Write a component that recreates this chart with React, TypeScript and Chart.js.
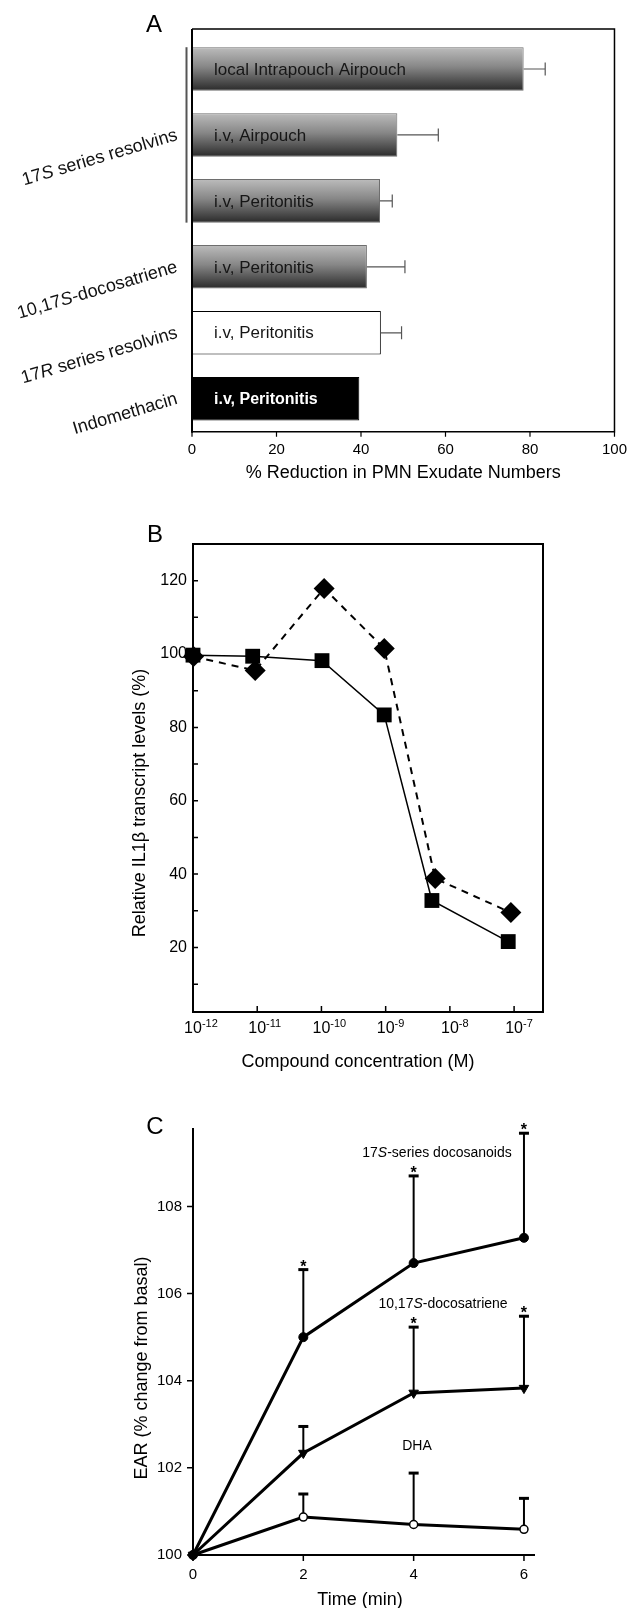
import React, { useEffect, useRef } from 'react';
import { Chart, registerables } from 'chart.js';

Chart.register(...registerables);

const FONT = "'Liberation Sans', Arial, Helvetica, sans-serif";
Chart.defaults.font.family = FONT;
Chart.defaults.color = '#000';

// ---------------- Panel A data ----------------
const barLabels = [
  'local Intrapouch Airpouch',
  'i.v, Airpouch',
  'i.v, Peritonitis',
  'i.v, Peritonitis',
  'i.v, Peritonitis',
  'i.v, Peritonitis',
];
const reductionValues = [78.5, 48.6, 44.5, 41.4, 44.7, 39.6];
const reductionErrors = [5.1, 9.7, 2.9, 9.0, 4.9, 0];
const barFills = ['gradient', 'gradient', 'gradient', 'gradient', 'white', 'black'];
const groupNames = ['17S series resolvins', '10,17S-docosatriene', '17R series resolvins', 'Indomethacin'];
const groupFirstBar = [0, 3, 4, 5];
const groupLastBar = [2, 3, 4, 5];
const reductionTicks = [0, 20, 40, 60, 80, 100];

// ---------------- Panel B data ----------------
const bTickExponents = [-12, -11, -10, -9, -8, -7];
const squareConc = [1e-12, 8.5e-12, 1.02e-10, 9.5e-10, 5.25e-9, 8.1e-8];
const squareLevels = [99.7, 99.4, 98.2, 83.4, 32.8, 21.6];
const diamondConc = [1.02e-12, 9.3e-12, 1.1e-10, 9.5e-10, 5.9e-9, 8.9e-8];
const diamondLevels = [99.3, 95.5, 117.9, 101.5, 38.8, 29.5];
const bYTicks = [10, 20, 30, 40, 50, 60, 70, 80, 90, 100, 110, 120];

// ---------------- Panel C data ----------------
const timeMin = [0, 2, 4, 6];
const docosanoidsEAR = [100, 105.0, 106.7, 107.28];
const docosanoidsSEM = [0, 1.55, 2.0, 2.4];
const docosanoidsSig = [false, true, true, true];
const docosatrieneEAR = [100, 102.34, 103.72, 103.83];
const docosatrieneSEM = [0, 0.61, 1.51, 1.65];
const docosatrieneSig = [false, false, true, true];
const dhaEAR = [100, 100.87, 100.7, 100.59];
const dhaSEM = [0, 0.53, 1.18, 0.71];
const dhaSig = [false, false, false, false];
const cXTicks = [0, 2, 4, 6];
const cYTicks = [100, 102, 104, 106, 108];

// ---------------- helpers ----------------
function stereoSegments(label: string) {
  const m = label.match(/^(.*17)([SR])(.*)$/);
  return m
    ? [
        { t: m[1], it: false },
        { t: m[2], it: true },
        { t: m[3], it: false },
      ]
    : [{ t: label, it: false }];
}

function drawSegments(ctx: CanvasRenderingContext2D, label: string, x: number, y: number, size: number, align: string) {
  const segs = stereoSegments(label);
  const fontOf = (it: boolean) => `${it ? 'italic ' : ''}${size}px ${FONT}`;
  const widths = segs.map((s) => {
    ctx.font = fontOf(s.it);
    return ctx.measureText(s.t).width;
  });
  const total = widths.reduce((a, b) => a + b, 0);
  let cx = align === 'right' ? x - total : align === 'center' ? x - total / 2 : x;
  ctx.textAlign = 'left';
  segs.forEach((s, i) => {
    ctx.font = fontOf(s.it);
    ctx.fillText(s.t, cx, y);
    cx += widths[i];
  });
}

function drawText(ctx: CanvasRenderingContext2D, text: string, x: number, y: number, size: number, rotation = 0) {
  ctx.save();
  ctx.translate(x, y);
  ctx.rotate(rotation);
  ctx.font = `${size}px ${FONT}`;
  ctx.fillStyle = '#000';
  ctx.textAlign = 'center';
  ctx.textBaseline = 'middle';
  ctx.fillText(text, 0, 0);
  ctx.restore();
}

const BAR_PCT = 0.66;

function barFillStyle(c: any) {
  const i = c.dataIndex;
  if (i == null) return '#888';
  const f = barFills[i];
  if (f === 'white') return '#ffffff';
  if (f === 'black') return '#000000';
  const chart = c.chart;
  const ys = chart.scales && chart.scales.y;
  if (!chart.chartArea || !ys) return '#888';
  const cy = ys.getPixelForValue(i);
  const half = ((ys.height / barLabels.length) * BAR_PCT) / 2;
  const g = chart.ctx.createLinearGradient(0, cy - half, 0, cy + half);
  g.addColorStop(0, '#bcbcbc');
  g.addColorStop(0.45, '#878787');
  g.addColorStop(1, '#2a2a2a');
  return g;
}

// ---------------- Panel A ----------------
const panelAPlugin = {
  id: 'panelA',
  afterDatasetsDraw(chart: any) {
    const { ctx, chartArea: ca, scales } = chart;
    const xs = scales.x;
    const meta = chart.getDatasetMeta(0);
    ctx.save();
    // error bars
    ctx.strokeStyle = '#555';
    ctx.lineWidth = 1.2;
    meta.data.forEach((el: any, i: number) => {
      const e = reductionErrors[i];
      if (!e) return;
      const x1 = xs.getPixelForValue(reductionValues[i] + e);
      ctx.beginPath();
      ctx.moveTo(el.x, el.y);
      ctx.lineTo(x1, el.y);
      ctx.moveTo(x1, el.y - 6.5);
      ctx.lineTo(x1, el.y + 6.5);
      ctx.stroke();
    });
    // texts inside bars
    meta.data.forEach((el: any, i: number) => {
      const f = barFills[i];
      ctx.font = f === 'black' ? `bold 16px ${FONT}` : `17px ${FONT}`;
      ctx.fillStyle = f === 'black' ? '#ffffff' : '#161616';
      ctx.textAlign = 'left';
      ctx.textBaseline = 'middle';
      ctx.fillText(barLabels[i], xs.getPixelForValue(0) + 22, el.y + 1);
    });
    // group labels + bracket
    ctx.fillStyle = '#111';
    ctx.textBaseline = 'middle';
    groupNames.forEach((name, g) => {
      const a = meta.data[groupFirstBar[g]];
      const b = meta.data[groupLastBar[g]];
      const yc = (a.y + b.y) / 2;
      ctx.save();
      ctx.translate(ca.left - 15, yc);
      ctx.rotate((-16.5 * Math.PI) / 180);
      drawSegments(ctx, name, 0, 0, 18, 'right');
      ctx.restore();
      if (groupLastBar[g] > groupFirstBar[g]) {
        ctx.strokeStyle = '#555';
        ctx.lineWidth = 2;
        ctx.beginPath();
        ctx.moveTo(ca.left - 5.5, a.y - a.height / 2);
        ctx.lineTo(ca.left - 5.5, b.y + b.height / 2);
        ctx.stroke();
      }
    });
    ctx.restore();
  },
  afterDraw(chart: any) {
    const { ctx, chartArea: ca, scales } = chart;
    const xs = scales.x;
    ctx.save();
    ctx.strokeStyle = '#000';
    const top = ca.top - 7;
    ctx.lineWidth = 1.5;
    ctx.beginPath();
    ctx.moveTo(ca.left, top);
    ctx.lineTo(ca.right, top);
    ctx.lineTo(ca.right, ca.bottom);
    ctx.lineTo(ca.left, ca.bottom);
    ctx.stroke();
    ctx.lineWidth = 2;
    ctx.beginPath();
    ctx.moveTo(ca.left, top);
    ctx.lineTo(ca.left, ca.bottom + 1);
    ctx.stroke();
    ctx.lineWidth = 1.2;
    ctx.beginPath();
    reductionTicks.forEach((v) => {
      const x = xs.getPixelForValue(v);
      ctx.moveTo(x, ca.bottom);
      ctx.lineTo(x, ca.bottom + 5);
    });
    ctx.stroke();
    drawText(ctx, 'A', 154, 25, 24);
    drawText(ctx, '% Reduction in PMN Exudate Numbers', (ca.left + ca.right) / 2, 473, 18);
    ctx.restore();
  },
};

function makeA(): any {
  return {
    type: 'bar',
    data: {
      labels: barLabels,
      datasets: [
        {
          data: reductionValues,
          backgroundColor: (c: any) => barFillStyle(c),
          borderColor: (c: any) => (c.dataIndex != null && barFills[c.dataIndex] === 'gradient' ? '#6e6e6e' : '#000'),
          borderWidth: 1,
          borderSkipped: 'start',
          categoryPercentage: 1,
          barPercentage: BAR_PCT,
        },
      ],
    },
    options: {
      responsive: false,
      animation: false,
      indexAxis: 'y',
      layout: { padding: { left: 0, right: 16, top: 36, bottom: 0 } },
      plugins: { legend: { display: false }, tooltip: { enabled: false } },
      scales: {
        x: {
          type: 'linear',
          min: 0,
          max: 100,
          afterBuildTicks: (s: any) => {
            s.ticks = reductionTicks.map((v) => ({ value: v }));
          },
          ticks: { font: { size: 15 }, color: '#000', padding: 9 },
          grid: { display: false, drawTicks: false },
          border: { display: false },
          afterFit: (s: any) => {
            s.height = 68.3;
          },
        },
        y: {
          type: 'category',
          ticks: { display: false },
          grid: { display: false, drawTicks: false },
          border: { display: false },
          afterFit: (s: any) => {
            s.width = 192;
          },
        },
      },
    },
    plugins: [panelAPlugin],
  };
}

// ---------------- Panel B ----------------
const panelBPlugin = {
  id: 'panelB',
  afterDraw(chart: any) {
    const { ctx, chartArea: ca, scales } = chart;
    const xs = scales.x;
    const ys = scales.y;
    ctx.save();
    ctx.strokeStyle = '#000';
    ctx.lineWidth = 2;
    ctx.strokeRect(ca.left, ca.top, ca.right - ca.left, ca.bottom - ca.top);
    ctx.lineWidth = 1.5;
    ctx.beginPath();
    bTickExponents.forEach((e) => {
      const x = xs.getPixelForValue(Math.pow(10, e));
      ctx.moveTo(x, ca.bottom);
      ctx.lineTo(x, ca.bottom - 6);
    });
    bYTicks.forEach((v) => {
      const y = ys.getPixelForValue(v);
      ctx.moveTo(ca.left, y);
      ctx.lineTo(ca.left + 5, y);
    });
    ctx.stroke();
    ctx.fillStyle = '#000';
    ctx.textBaseline = 'middle';
    bTickExponents.forEach((e) => {
      const x = xs.getPixelForValue(Math.pow(10, e));
      ctx.font = `16px ${FONT}`;
      ctx.textAlign = 'center';
      const w = ctx.measureText('10').width;
      ctx.fillText('10', x, ca.bottom + 17);
      ctx.font = `11px ${FONT}`;
      ctx.textAlign = 'left';
      ctx.fillText(String(e), x + w / 2, ca.bottom + 12);
    });
    drawText(ctx, 'B', 155, 35, 24);
    drawText(ctx, 'Relative IL1β transcript levels (%)', 140, 303, 18, -Math.PI / 2);
    drawText(ctx, 'Compound concentration (M)', 358, 562, 18);
    ctx.restore();
  },
};

function makeB(): any {
  return {
    type: 'line',
    data: {
      datasets: [
        {
          label: 'Series 1',
          data: squareConc.map((x, i) => ({ x, y: squareLevels[i] })),
          borderColor: '#000',
          borderWidth: 1.5,
          pointStyle: 'rect',
          pointRadius: 10.5,
          pointBackgroundColor: '#000',
          pointBorderColor: '#000',
          pointBorderWidth: 0,
          clip: false,
        },
        {
          label: 'Series 2',
          data: diamondConc.map((x, i) => ({ x, y: diamondLevels[i] })),
          borderColor: '#000',
          borderWidth: 2,
          borderDash: [7, 6],
          pointStyle: 'rectRot',
          pointRadius: 10.5,
          pointBackgroundColor: '#000',
          pointBorderColor: '#000',
          pointBorderWidth: 0,
          clip: false,
        },
      ],
    },
    options: {
      responsive: false,
      animation: false,
      layout: { padding: { left: 0, right: 93, top: 44, bottom: 0 } },
      plugins: { legend: { display: false }, tooltip: { enabled: false } },
      scales: {
        x: {
          type: 'logarithmic',
          min: 1e-12,
          max: Math.pow(10, -6.55),
          afterBuildTicks: (s: any) => {
            s.ticks = bTickExponents.map((e) => ({ value: Math.pow(10, e) }));
          },
          ticks: { display: false },
          grid: { display: false, drawTicks: false },
          border: { display: false },
          afterFit: (s: any) => {
            s.height = 68;
          },
        },
        y: {
          type: 'linear',
          min: 2.4,
          max: 130,
          afterBuildTicks: (s: any) => {
            s.ticks = bYTicks.map((v) => ({ value: v }));
          },
          ticks: {
            font: { size: 16 },
            color: '#000',
            padding: 6,
            callback: (v: any) => (Number(v) % 20 === 0 ? String(v) : ''),
          },
          grid: { display: false, drawTicks: false },
          border: { display: false },
          afterFit: (s: any) => {
            s.width = 193;
          },
        },
      },
    },
    plugins: [panelBPlugin],
  };
}

// ---------------- Panel C ----------------
const cSeries = [
  { values: docosanoidsEAR, sem: docosanoidsSEM, sig: docosanoidsSig },
  { values: docosatrieneEAR, sem: docosatrieneSEM, sig: docosatrieneSig },
  { values: dhaEAR, sem: dhaSEM, sig: dhaSig },
];

const panelCPlugin = {
  id: 'panelC',
  beforeDatasetsDraw(chart: any) {
    const { ctx, scales } = chart;
    const xs = scales.x;
    const ys = scales.y;
    ctx.save();
    ctx.strokeStyle = '#000';
    cSeries.forEach((s) => {
      s.values.forEach((v, i) => {
        const e = s.sem[i];
        if (!e) return;
        const x = xs.getPixelForValue(timeMin[i]);
        const y0 = ys.getPixelForValue(v);
        const y1 = ys.getPixelForValue(v + e);
        ctx.lineWidth = 2;
        ctx.beginPath();
        ctx.moveTo(x, y0);
        ctx.lineTo(x, y1);
        ctx.stroke();
        ctx.lineWidth = 3;
        ctx.beginPath();
        ctx.moveTo(x - 5, y1);
        ctx.lineTo(x + 5, y1);
        ctx.stroke();
        if (s.sig[i]) {
          ctx.font = `bold 16px ${FONT}`;
          ctx.fillStyle = '#000';
          ctx.textAlign = 'center';
          ctx.textBaseline = 'alphabetic';
          ctx.fillText('*', x, y1 + 2);
        }
      });
    });
    ctx.restore();
  },
  afterDraw(chart: any) {
    const { ctx, chartArea: ca, scales } = chart;
    const xs = scales.x;
    const ys = scales.y;
    ctx.save();
    ctx.strokeStyle = '#000';
    ctx.lineWidth = 2;
    ctx.beginPath();
    ctx.moveTo(ca.left, ca.top);
    ctx.lineTo(ca.left, ca.bottom);
    ctx.lineTo(ca.right, ca.bottom);
    ctx.stroke();
    ctx.lineWidth = 1.5;
    ctx.beginPath();
    cXTicks.forEach((v) => {
      const x = xs.getPixelForValue(v);
      ctx.moveTo(x, ca.bottom);
      ctx.lineTo(x, ca.bottom + 6);
    });
    cYTicks.forEach((v) => {
      const y = ys.getPixelForValue(v);
      ctx.moveTo(ca.left, y);
      ctx.lineTo(ca.left - 6, y);
    });
    ctx.stroke();
    ctx.fillStyle = '#000';
    ctx.textBaseline = 'middle';
    drawSegments(ctx, '17S-series docosanoids', 437, 73, 14, 'center');
    drawSegments(ctx, '10,17S-docosatriene', 443, 224, 14, 'center');
    drawSegments(ctx, 'DHA', 417, 366, 14, 'center');
    drawText(ctx, 'C', 155, 47, 24);
    drawText(ctx, 'EAR (% change from basal)', 142, 288, 18, -Math.PI / 2);
    drawText(ctx, 'Time (min)', 360, 520, 18);
    ctx.restore();
  },
};

function makeC(): any {
  return {
    type: 'line',
    data: {
      datasets: [
        {
          label: '17S-series docosanoids',
          data: timeMin.map((x, i) => ({ x, y: docosanoidsEAR[i] })),
          borderColor: '#000',
          borderWidth: 3,
          pointStyle: 'circle',
          pointRadius: 4.5,
          pointBackgroundColor: '#000',
          pointBorderColor: '#000',
          pointBorderWidth: 1,
          clip: false,
        },
        {
          label: '10,17S-docosatriene',
          data: timeMin.map((x, i) => ({ x, y: docosatrieneEAR[i] })),
          borderColor: '#000',
          borderWidth: 3,
          pointStyle: 'triangle',
          rotation: 180,
          pointRadius: 5.5,
          pointBackgroundColor: '#000',
          pointBorderColor: '#000',
          pointBorderWidth: 1,
          clip: false,
        },
        {
          label: 'DHA',
          data: timeMin.map((x, i) => ({ x, y: dhaEAR[i] })),
          borderColor: '#000',
          borderWidth: 3,
          pointStyle: 'circle',
          pointRadius: 4,
          pointBackgroundColor: '#fff',
          pointBorderColor: '#000',
          pointBorderWidth: 1.5,
          clip: false,
        },
      ],
    },
    options: {
      responsive: false,
      animation: false,
      layout: { padding: { left: 0, right: 101, top: 48, bottom: 0 } },
      plugins: { legend: { display: false }, tooltip: { enabled: false } },
      scales: {
        x: {
          type: 'linear',
          min: 0,
          max: 6.2,
          afterBuildTicks: (s: any) => {
            s.ticks = cXTicks.map((v) => ({ value: v }));
          },
          ticks: { font: { size: 15 }, color: '#000', padding: 11 },
          grid: { display: false, drawTicks: false },
          border: { display: false },
          afterFit: (s: any) => {
            s.height = 53;
          },
        },
        y: {
          type: 'linear',
          min: 100,
          max: 109.8,
          afterBuildTicks: (s: any) => {
            s.ticks = cYTicks.map((v) => ({ value: v }));
          },
          ticks: { font: { size: 15 }, color: '#000', padding: 11 },
          grid: { display: false, drawTicks: false },
          border: { display: false },
          afterFit: (s: any) => {
            s.width = 193;
          },
        },
      },
    },
    plugins: [panelCPlugin],
  };
}

function ChartCanvas({ top, height, make }: { top: number; height: number; make: () => any }) {
  const ref = useRef<HTMLCanvasElement | null>(null);
  useEffect(() => {
    if (!ref.current) return;
    const chart = new Chart(ref.current, make());
    return () => chart.destroy();
  }, []);
  return (
    <canvas
      ref={ref}
      width={636}
      height={height}
      style={{ position: 'absolute', left: 0, top, width: 636, height, display: 'block' }}
    />
  );
}

export default function App() {
  return (
    <div style={{ position: 'absolute', left: 0, top: 0, width: 636, height: 1608, background: '#fff', overflow: 'hidden' }}>
      <ChartCanvas top={0} height={500} make={makeA} />
      <ChartCanvas top={500} height={580} make={makeB} />
      <ChartCanvas top={1080} height={528} make={makeC} />
    </div>
  );
}
